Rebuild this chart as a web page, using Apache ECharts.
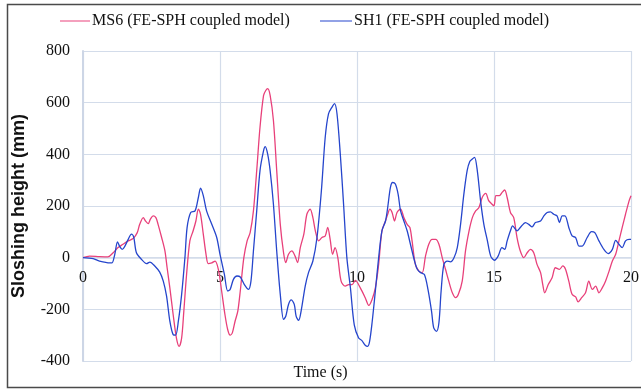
<!DOCTYPE html>
<html>
<head>
<meta charset="utf-8">
<script src="https://cdn.jsdelivr.net/npm/echarts@6/dist/echarts.min.js"></script>
<style>html,body{margin:0;padding:0;background:#fff}#c{width:641px;height:389px}</style>
</head>
<body>
<div id="c"></div>
<script>
// Time (s) and sloshing height (mm)
var ms6Time = [0,0.24,0.6,0.91,1.1,1.28,1.46,1.65,1.83,1.98,2.07,2.2,2.28,2.38,2.46,2.56,2.66,2.74,2.87,2.99,3.07,3.17,3.29,3.41,3.51,3.6,3.68,3.78,3.9,4.02,4.12,4.21,4.29,4.39,4.49,4.57,4.7,4.82,4.94,5.06,5.18,5.28,5.37,5.45,5.55,5.65,5.74,5.87,5.99,6.1,6.22,6.34,6.46,6.59,6.67,6.74,6.83,6.95,7.07,7.2,7.32,7.4,7.5,7.62,7.74,7.83,7.93,8.06,8.17,8.29,8.39,8.48,8.6,8.72,8.84,8.93,9.02,9.11,9.2,9.3,9.42,9.57,9.7,9.82,9.94,10.12,10.3,10.43,10.55,10.67,10.79,10.91,11.04,11.12,11.2,11.28,11.37,11.46,11.59,11.71,11.83,11.93,12.01,12.13,12.26,12.38,12.5,12.62,12.74,12.87,12.99,13.11,13.23,13.35,13.48,13.6,13.7,13.84,13.96,14.09,14.21,14.33,14.45,14.57,14.7,14.8,14.9,15.0,15.07,15.2,15.29,15.39,15.48,15.6,15.72,15.84,15.96,16.09,16.21,16.33,16.45,16.57,16.7,16.78,16.85,16.98,17.12,17.24,17.39,17.51,17.61,17.73,17.85,17.98,18.07,18.2,18.34,18.46,18.59,18.71,18.83,18.95,19.07,19.2,19.32,19.44,19.56,19.68,19.8,19.93,20.0];
var ms6Height = [0,6,4,3,19,39,52,65,74,97,129,155,142,132,149,162,155,129,78,26,-39,-117,-220,-311,-343,-311,-207,-65,65,104,142,188,168,91,13,-23,-20,-13,-45,-129,-220,-278,-300,-291,-246,-207,-129,0,65,97,181,337,505,628,647,654,628,531,337,129,19,-19,13,26,6,-19,39,91,168,188,155,104,65,78,84,117,71,13,39,0,-91,-110,-104,-104,-88,-117,-155,-185,-162,-117,-26,104,142,168,188,175,142,175,188,155,129,117,65,-26,-52,-58,6,52,71,71,52,0,-45,-91,-136,-155,-142,-91,26,104,155,181,194,233,249,222,210,201,240,240,252,262,233,175,155,78,26,0,19,32,19,-26,-58,-104,-136,-104,-78,-39,-45,-32,-45,-91,-142,-152,-171,-155,-136,-91,-123,-110,-136,-117,-91,-52,-13,13,65,117,168,220,240];
var sh1Time = [0,0.37,0.6,0.98,1.06,1.16,1.26,1.34,1.43,1.52,1.65,1.77,1.85,1.95,2.13,2.32,2.44,2.62,2.8,2.93,3.05,3.17,3.29,3.38,3.48,3.6,3.72,3.8,3.93,4.09,4.21,4.29,4.39,4.51,4.7,4.88,5.0,5.16,5.28,5.37,5.49,5.62,5.74,5.89,6.04,6.13,6.22,6.34,6.46,6.59,6.65,6.74,6.83,6.95,7.07,7.2,7.32,7.4,7.5,7.6,7.71,7.78,7.87,7.96,8.11,8.23,8.39,8.54,8.7,8.84,8.96,9.09,9.18,9.27,9.39,9.51,9.63,9.76,9.9,10.06,10.18,10.3,10.39,10.46,10.55,10.67,10.79,10.91,11.04,11.12,11.22,11.3,11.4,11.5,11.59,11.71,11.83,11.95,12.1,12.2,12.32,12.46,12.59,12.72,12.8,12.9,12.99,13.07,13.17,13.29,13.41,13.54,13.66,13.78,13.9,14.02,14.12,14.21,14.29,14.39,14.51,14.63,14.76,14.88,15.02,15.15,15.29,15.39,15.48,15.6,15.68,15.84,15.96,16.15,16.27,16.39,16.51,16.7,16.82,16.94,17.06,17.18,17.3,17.39,17.49,17.59,17.73,17.85,17.98,18.1,18.22,18.4,18.56,18.68,18.83,19.01,19.17,19.32,19.44,19.56,19.68,19.8,19.93,20.0];
var sh1Height = [0,-4,-13,-20,-20,13,61,43,32,43,71,91,80,19,-6,-23,-17,-32,-56,-91,-149,-246,-298,-300,-246,-142,0,117,175,181,233,269,240,181,129,78,13,-65,-129,-123,-84,-71,-75,-104,-123,-91,26,181,337,414,430,401,337,207,26,-142,-239,-227,-181,-163,-181,-227,-243,-207,-110,-58,-13,78,259,466,557,583,596,557,401,207,0,-117,-260,-311,-321,-339,-343,-324,-252,-129,0,104,142,194,272,291,285,246,181,142,104,52,-13,-45,-58,-65,-123,-207,-272,-285,-252,-129,-26,-13,-16,0,39,129,246,337,373,382,388,337,220,129,65,6,-10,6,39,32,65,104,123,104,117,136,129,119,136,142,162,175,177,168,162,136,162,162,117,84,78,45,45,78,101,97,65,32,16,32,67,52,39,65,71,71];
var xTicks = [0, 5, 10, 15, 20];
var yTicks = [-400, -200, 0, 200, 400, 600, 800];

function pairs(t, v) { return t.map(function (x, i) { return [x, v[i]]; }); }

var serif = '"Liberation Serif", "Times New Roman", serif';
var gridTop = 51, gridBottom = 28, H = 389;
var yMin = yTicks[0], yMax = yTicks[yTicks.length - 1];
var plotH = H - gridTop - gridBottom;
// shift the x axis up from the grid bottom to the y = 0 line
var zeroOffset = -plotH * (0 - yMin) / (yMax - yMin);

var chart = echarts.init(document.getElementById('c'), null, { renderer: 'canvas' });
chart.setOption({
  animation: false,
  backgroundColor: '#fff',
  textStyle: { fontFamily: serif },
  graphic: [{
    type: 'polyline',
    shape: { points: [[660, 4.5], [7.5, 4.5], [7.5, 387.5], [660, 387.5]] },
    style: { stroke: '#4a4a4a', lineWidth: 1.5, fill: null },
    silent: true
  }, {
    type: 'text', left: 'center', top: 365,
    style: { text: 'Time (s)', font: '16px "Liberation Serif", serif', fill: '#111' },
    silent: true
  }],
  legend: [{
    data: ['MS6 (FE-SPH coupled model)'],
    left: 55, top: 8, itemWidth: 30, itemHeight: 14, itemGap: 0,
    icon: 'path://M0,6.5L30,6.5L30,7.5L0,7.5Z',
    textStyle: { fontFamily: serif, fontSize: 16, color: '#111', padding: [0, 0, 0, -3] }
  }, {
    data: ['SH1 (FE-SPH coupled model)'],
    left: 315, top: 8, itemWidth: 32, itemHeight: 14, itemGap: 0,
    icon: 'path://M0,6.5L32,6.5L32,7.5L0,7.5Z',
    textStyle: { fontFamily: serif, fontSize: 16, color: '#111', padding: [0, 0, 0, -3] }
  }],
  grid: { left: 83, right: 10, top: gridTop, bottom: gridBottom, containLabel: false, outerBoundsMode: 'none' },
  xAxis: {
    type: 'value', min: xTicks[0], max: xTicks[xTicks.length - 1], interval: 5,
    position: 'bottom', offset: zeroOffset,
    axisLine: { onZero: false, lineStyle: { color: '#d3dcea', width: 1.5 } },
    axisTick: { show: false },
    axisLabel: { fontFamily: serif, fontSize: 16, color: '#111', margin: 12 },
    splitLine: { show: true, lineStyle: { color: '#d3dcea', width: 1.2 } }
  },
  yAxis: {
    type: 'value', min: yMin, max: yMax, interval: 200,
    name: 'Sloshing height (mm)', nameLocation: 'middle', nameGap: 55,
    nameTextStyle: { fontFamily: '"Liberation Sans", Arial, sans-serif', fontSize: 18, fontWeight: 'bold', color: '#111' },
    axisLine: { show: true, onZero: false, lineStyle: { color: '#cdd6e6', width: 2 } },
    axisTick: { show: false },
    axisLabel: { fontFamily: serif, fontSize: 16, color: '#111', margin: 13 },
    splitLine: { show: true, lineStyle: { color: '#d3dcea', width: 1.2 } }
  },
  series: [{
    name: 'MS6 (FE-SPH coupled model)', type: 'line', showSymbol: false, symbol: 'none',
    data: pairs(ms6Time, ms6Height), smooth: 0.3,
    lineStyle: { color: '#e8407a', width: 1.3 }, itemStyle: { color: '#e8407a' }, z: 3
  }, {
    name: 'SH1 (FE-SPH coupled model)', type: 'line', showSymbol: false, symbol: 'none',
    data: pairs(sh1Time, sh1Height), smooth: 0.3,
    lineStyle: { color: '#2545cc', width: 1.3 }, itemStyle: { color: '#2545cc' }, z: 4
  }]
});
</script>
</body>
</html>
